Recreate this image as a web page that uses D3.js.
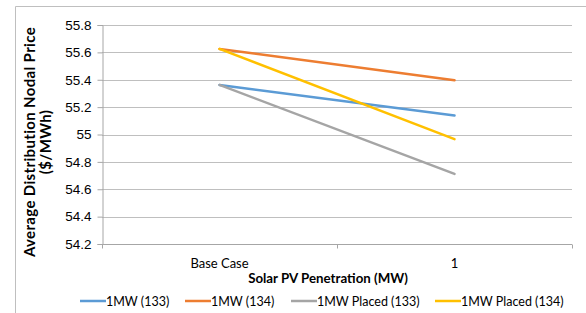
<!DOCTYPE html>
<html>
<head>
<meta charset="utf-8">
<script src="https://cdn.jsdelivr.net/npm/d3@7"></script>
<style>
  body { margin: 0; background: #fff; }
  svg { display: block; font-family: Lato, "Open Sans", sans-serif; }
</style>
</head>
<body>
<script>
'use strict';

// chart data
const categories = ["Base Case", "1"];
const seriesNames = ["1MW (133)", "1MW (134)", "1MW Placed (133)", "1MW Placed (134)"];
const series133 = [55.362, 55.138];
const series134 = [55.625, 55.396];
const placed133 = [55.362, 54.712];
const placed134 = [55.625, 54.966];
const yTicks = [54.2, 54.4, 54.6, 54.8, 55, 55.2, 55.4, 55.6, 55.8];

const colors = ["#5B9BD5", "#ED7D31", "#A5A5A5", "#FFC000"];
const allSeries = [series133, series134, placed133, placed134];

const width = 586, height = 313;
const svg = d3.select('body').append('svg')
  .attr('width', width)
  .attr('height', height);

// outer chart frame
svg.append('path')
  .attr('d', 'M15.5,' + height + 'V6.5H' + width)
  .attr('fill', 'none')
  .attr('stroke', '#BFBFBF')
  .attr('stroke-width', 1);

const plot = { left: 102, right: 572, top: 25, bottom: 244 };

let xScale = d3.scaleBand()
  .domain(categories)
  .range([plot.left, plot.right]);

let yScale = d3.scaleLinear()
  .domain([54.2, 55.8])
  .range([plot.bottom, plot.top]);

// gridlines
svg.append('g')
  .selectAll('line')
  .data(yTicks.slice(1))
  .enter()
  .append('line')
    .attr('x1', plot.left)
    .attr('x2', plot.right)
    .attr('y1', d => Math.round(yScale(d)) + 0.5)
    .attr('y2', d => Math.round(yScale(d)) + 0.5)
    .attr('stroke', '#BFBFBF')
    .attr('stroke-width', 1.2);

// y axis
let yAxis = d3.axisLeft(yScale)
  .tickValues(yTicks)
  .tickSize(5)
  .tickPadding(6)
  .tickFormat(d => d3.format('')(+d.toFixed(1)));
let gy = svg.append('g')
  .attr('transform', 'translate(' + (plot.left + 0.5) + ',0)')
  .call(yAxis);
gy.select('.domain').attr('stroke', '#A6A6A6');
gy.selectAll('.tick line').attr('stroke', '#A6A6A6');
gy.selectAll('.tick text')
  .style('font-size', '13.5px')
  .attr('fill', '#000');

// x axis with ticks at band boundaries
let gx = svg.append('g')
  .attr('transform', 'translate(0,' + (plot.bottom + 0.5) + ')');
gx.append('line')
  .attr('x1', plot.left)
  .attr('x2', plot.right)
  .attr('stroke', '#A6A6A6');
let boundaries = categories.map(c => xScale(c)).concat([plot.right]);
gx.selectAll('.xtick')
  .data(boundaries)
  .enter()
  .append('line')
    .attr('x1', d => Math.round(d) + 0.5)
    .attr('x2', d => Math.round(d) + 0.5)
    .attr('y1', 0)
    .attr('y2', 4)
    .attr('stroke', '#A6A6A6');
gx.selectAll('.xlabel')
  .data(categories)
  .enter()
  .append('text')
    .attr('x', d => xScale(d) + xScale.bandwidth() / 2)
    .attr('y', 23)
    .attr('text-anchor', 'middle')
    .style('font-size', '13px')
    .text(d => d);

// series lines
let line = d3.line()
  .x((d, i) => xScale(categories[i]) + xScale.bandwidth() / 2)
  .y(d => yScale(d));

svg.append('g')
  .selectAll('path')
  .data(allSeries)
  .enter()
  .append('path')
    .attr('d', line)
    .attr('fill', 'none')
    .attr('stroke', (d, i) => colors[i])
    .attr('stroke-width', 2.5)
    .attr('stroke-linecap', 'round');

// axis titles
svg.append('text')
  .attr('x', 328)
  .attr('y', 283)
  .attr('text-anchor', 'middle')
  .style('font-size', '13.3px')
  .style('font-weight', 'bold')
  .text('Solar PV Penetration (MW)');

let yTitle = svg.append('text')
  .attr('transform', 'translate(35,142)rotate(-90)')
  .attr('text-anchor', 'middle')
  .style('font-size', '15px')
  .style('letter-spacing', '0.35px')
  .style('font-weight', 'bold');
yTitle.append('tspan').attr('x', 0).attr('dy', 0).text('Average Distribution Nodal Price');
yTitle.append('tspan').attr('x', 0).attr('dy', 16).text('($/MWh)');

// legend
const legendX = [80, 185, 291, 435];
let legend = svg.append('g');
legend.selectAll('line')
  .data(seriesNames)
  .enter()
  .append('line')
    .attr('x1', (d, i) => legendX[i])
    .attr('x2', (d, i) => legendX[i] + 26)
    .attr('y1', 301)
    .attr('y2', 301)
    .attr('stroke', (d, i) => colors[i])
    .attr('stroke-width', 2.5);
legend.selectAll('text')
  .data(seriesNames)
  .enter()
  .append('text')
    .attr('x', (d, i) => legendX[i] + 26)
    .attr('y', 305.5)
    .style('font-size', '12.5px')
    .text(d => d);
</script>
</body>
</html>
